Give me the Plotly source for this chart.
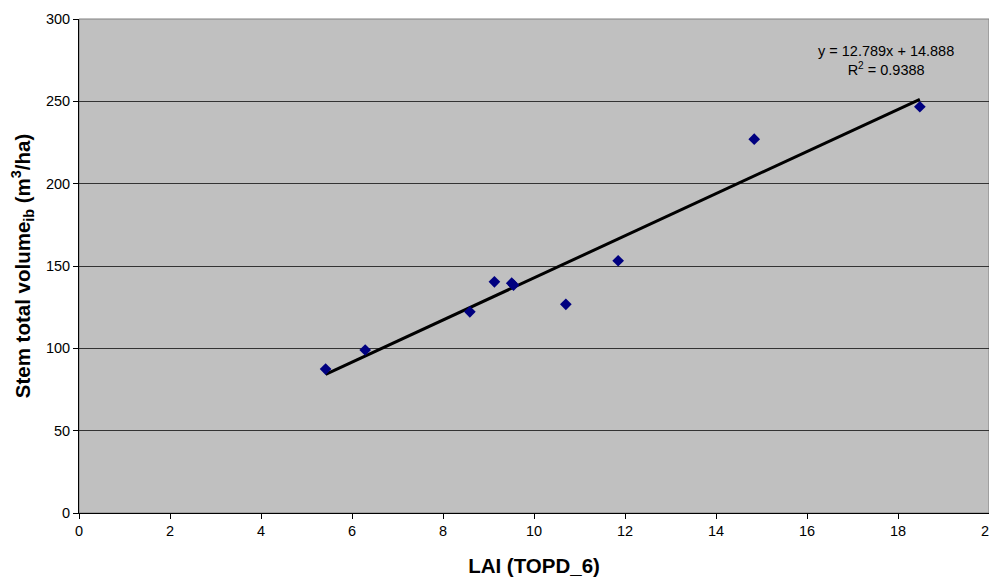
import plotly.graph_objects as go

lai = [5.42, 6.29, 8.59, 9.13, 9.51, 9.55, 10.70, 11.85, 14.84, 18.48]
volume = [87.4, 99.0, 122.2, 140.4, 139.6, 138.4, 126.7, 153.2, 227.0, 246.7]
slope = 12.789
intercept = 14.888
r2 = 0.9388
x_ticks = [0, 2, 4, 6, 8, 10, 12, 14, 16, 18, 20]
y_ticks = [0, 50, 100, 150, 200, 250, 300]

x_fit = [min(lai), max(lai)]
y_fit = [slope * v + intercept for v in x_fit]

font = "Liberation Sans, Arial, sans-serif"

fig = go.Figure()
fig.add_trace(go.Scatter(x=x_fit, y=y_fit, mode="lines",
                         line=dict(color="black", width=3), showlegend=False,
                         hoverinfo="skip"))
fig.add_trace(go.Scatter(x=lai, y=volume, mode="markers",
                         marker=dict(symbol="diamond", size=9, color="#000080"),
                         showlegend=False))

fig.add_annotation(x=0.887, y=0.917, xref="paper", yref="paper",
                   xanchor="center", yanchor="middle",
                   text=f"y = {slope}x + {intercept}<br>R<sup>2</sup> = {r2}",
                   showarrow=False, align="center",
                   font=dict(family=font, size=14.5, color="black"))

fig.update_layout(
    width=989, height=569,
    margin=dict(l=71, r=8, t=11, b=64),
    paper_bgcolor="white", plot_bgcolor="#C0C0C0",
    font=dict(family=font, size=14.5, color="black"),
    xaxis=dict(range=[0, 20], tickvals=x_ticks, showgrid=False, zeroline=False,
               automargin=False, ticklabeloverflow="allow",
               showline=True, linecolor="black", linewidth=1, mirror=False,
               ticks="outside", ticklen=5, tickcolor="black",
               title=dict(text="<b>LAI (TOPD_6)</b>", font=dict(size=20.5, family=font), standoff=20)),
    yaxis=dict(range=[0, 300], tickvals=y_ticks, showgrid=True, gridcolor="#333333",
               gridwidth=1, zeroline=False, automargin=False, ticklabeloverflow="allow",
               showline=True, linecolor="black", linewidth=1,
               ticks="outside", ticklen=5, tickcolor="black",
               title=dict(text="<b>Stem total volume<sub>ib</sub> (m<sup>3</sup>/ha)</b>",
                          font=dict(size=20.5, family=font), standoff=12)),
)
fig.add_shape(type="rect", xref="paper", yref="paper", x0=0, y0=0, x1=1, y1=1,
              line=dict(color="#808080", width=1), layer="below")
fig.write_html("out.html")
